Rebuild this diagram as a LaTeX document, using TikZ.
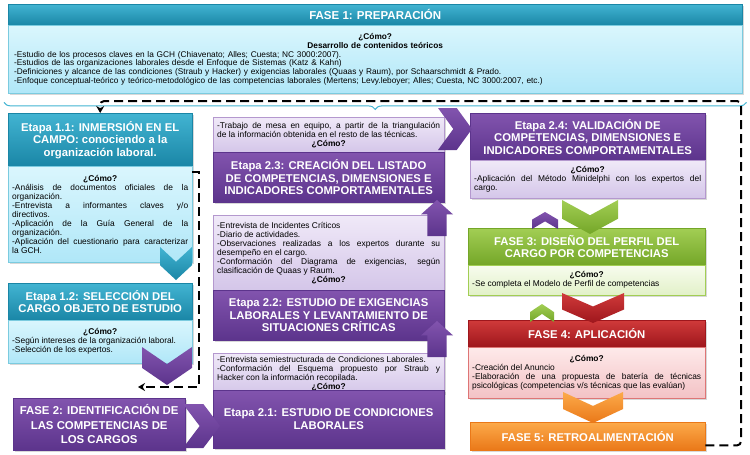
\documentclass[tikz,border=0pt]{standalone}
\usepackage{fontspec}
\setmainfont{Liberation Sans}
\usepackage{tikz}
\usetikzlibrary{arrows.meta, calc, decorations.pathreplacing, shadows}
\definecolor{tealtop}{RGB}{66,180,210}
\definecolor{tealbot}{RGB}{26,134,166}
\definecolor{teallight}{RGB}{218,246,253}
\definecolor{teallow}{RGB}{176,231,248}
\definecolor{purptop}{RGB}{130,84,174}
\definecolor{purpbot}{RGB}{92,52,140}
\definecolor{purplight}{RGB}{240,233,248}
\definecolor{purplow}{RGB}{212,198,233}
\definecolor{greentop}{RGB}{162,206,84}
\definecolor{greenbot}{RGB}{116,166,40}
\definecolor{greenlight}{RGB}{247,252,238}
\definecolor{greenlow}{RGB}{226,241,200}
\definecolor{redtop}{RGB}{208,58,58}
\definecolor{redbot}{RGB}{158,22,28}
\definecolor{redlight}{RGB}{254,234,234}
\definecolor{redlow}{RGB}{243,194,197}
\definecolor{orangetop}{RGB}{252,170,74}
\definecolor{orangebot}{RGB}{234,120,24}

\newcommand{\headtxt}{\fontsize{11.3}{12.5}\selectfont\bfseries}
\newcommand{\howtxt}{\fontsize{8.4}{9}\selectfont\parindent=0pt\hyphenpenalty=10000\tolerance=9999}
\newcommand{\comoline}{{\centering\bfseries ¿Cómo?\par}}
% chevrons: centre (or left) x, top/bottom/centre y, width, height, style
\newcommand{\chevdown}[5]{\path[#5] (#1-#3/2,#2) -- (#1,#2+0.45*#4) -- (#1+#3/2,#2) -- (#1+#3/2,#2+0.55*#4) -- (#1,#2+#4) -- (#1-#3/2,#2+0.55*#4) -- cycle;}
\newcommand{\chevup}[5]{\path[#5] (#1-#3/2,#2) -- (#1,#2-0.45*#4) -- (#1+#3/2,#2) -- (#1+#3/2,#2-0.55*#4) -- (#1,#2-#4) -- (#1-#3/2,#2-0.55*#4) -- cycle;}
\newcommand{\chevright}[5]{\path[#5] (#1,#2-#4/2) -- (#1+0.55*#3,#2-#4/2) -- (#1+#3,#2) -- (#1+0.55*#3,#2+#4/2) -- (#1,#2+#4/2) -- (#1+0.45*#3,#2) -- cycle;}
\newcommand{\blockup}[5]{\path[#5] (#1-0.3*#3,#2) -- (#1-0.3*#3,#2-0.6*#4) -- (#1-#3/2,#2-0.6*#4) -- (#1,#2-#4) -- (#1+#3/2,#2-0.6*#4) -- (#1+0.3*#3,#2-0.6*#4) -- (#1+0.3*#3,#2) -- cycle;}

\begin{document}
\begin{tikzpicture}[
    x=1pt, y=-1pt,
    box/.style={anchor=north west, inner sep=2pt, drop shadow={opacity=0.3, shadow xshift=1.5pt, shadow yshift=-1.5pt}},
    head/.style={box, align=center, text=white, font=\headtxt},
    how/.style={box, inner xsep=4pt, inner ysep=3pt, align=justify, font=\howtxt},
    tealhead/.style={head, top color=tealtop, bottom color=tealbot, draw=tealbot},
    tealhow/.style={how, top color=teallight, bottom color=teallow, draw=tealtop!70},
    purphead/.style={head, top color=purptop, bottom color=purpbot, draw=purpbot},
    purphow/.style={how, top color=purplight, bottom color=purplow, draw=purptop!60},
    greenhead/.style={head, top color=greentop, bottom color=greenbot, draw=greenbot},
    greenhow/.style={how, top color=greenlight, bottom color=greenlow, draw=greentop},
    redhead/.style={head, top color=redtop, bottom color=redbot, draw=redbot},
    redhow/.style={how, top color=redlight, bottom color=redlow, draw=redtop!70},
    orangehead/.style={head, top color=orangetop, bottom color=orangebot, draw=orangebot},
    chevteal/.style={top color=tealtop, bottom color=tealbot},
    chevpurp/.style={top color=purptop, bottom color=purpbot},
    chevgreen/.style={top color=greentop, bottom color=greenbot},
    chevred/.style={top color=redtop, bottom color=redbot},
    chevorange/.style={top color=orangetop, bottom color=orangebot},
    backline/.style={draw, line width=2pt, dash pattern=on 9pt off 5pt, -{Stealth[length=7pt, width=8pt]}}
]
    \fill[white] (0,0) rectangle (750,455);
    \useasboundingbox (0,0) rectangle (750,455);

    % FASE 1
    \node[tealhead, minimum width=734pt, minimum height=21pt, font=\fontsize{11.5}{13}\selectfont\bfseries] (f1h) at (8,4) {FASE 1: PREPARACIÓN};
    \node[tealhow, text width=722pt, minimum height=68pt, inner xsep=6pt, align=left, font=\fontsize{8.3}{8.7}\selectfont] (f1b) at (8,25) {{\centering\bfseries ¿Cómo?\par Desarrollo de contenidos teóricos\par}
        -Estudio de los procesos claves en la GCH (Chiavenato; Alles; Cuesta; NC 3000:2007).\par
        -Estudios de las organizaciones laborales desde el Enfoque de Sistemas (Katz \& Kahn)\par
        -Definiciones y alcance de las condiciones (Straub y Hacker) y exigencias laborales (Quaas y Raum), por Schaarschmidt \& Prado.\par
        -Enfoque conceptual-teórico y teórico-metodológico de las competencias laborales (Mertens; Levy.leboyer; Alles; Cuesta, NC 3000:2007, etc.)\par\vspace{5pt}};
    \draw[tealtop, line width=1pt, decorate, decoration={brace, mirror, amplitude=7pt}] ([xshift=-4pt, yshift=-9pt]f1b.south west) -- ([xshift=4pt, yshift=-9pt]f1b.south east);

    % Etapas 1.1 and 1.2
    \node[tealhead, minimum width=184pt, minimum height=53pt] (e11h) at (8,113) {Etapa 1.1: INMERSIÓN EN EL\\CAMPO: conociendo a la\\organización laboral.};
    \node[tealhow, text width=176pt, minimum height=96pt] (e11b) at (8,166) {\comoline
        -Análisis de documentos oficiales de la\linebreak organización.\par
        -Entrevista a informantes claves y/o\linebreak directivos.\par
        -Aplicación de la Guía General de la\linebreak organización.\par
        -Aplicación del cuestionario para caracterizar\linebreak la GCH.};
    \node[tealhead, minimum width=184pt, minimum height=37pt] (e12h) at (8,283) {Etapa 1.2: SELECCIÓN DEL\\CARGO OBJETO DE ESTUDIO};
    \node[tealhow, text width=176pt, minimum height=43pt] (e12b) at (8,320) {\comoline
        -Según intereses de la organización laboral.\par
        -Selección de los expertos.};

    % FASE 2
    \node[purphead, minimum width=172pt, minimum height=52pt, font=\fontsize{11.4}{14.5}\selectfont\bfseries] (f2) at (13,398) {FASE 2: IDENTIFICACIÓN DE\\LAS COMPETENCIAS DE\\LOS CARGOS};

    % Etapas 2.3, 2.2, 2.1
    \node[purphow, text width=223pt, minimum height=35pt] (e23b) at (213,117) {-Trabajo de mesa en equipo, a partir de la triangulación\linebreak de la información obtenida en el resto de las técnicas.\par
        \comoline};
    \node[purphead, minimum width=231pt, minimum height=50pt] (e23h) at (213,152) {Etapa 2.3: CREACIÓN DEL LISTADO\\DE COMPETENCIAS, DIMENSIONES E\\INDICADORES COMPORTAMENTALES};
    \node[purphow, text width=223pt, minimum height=75pt] (e22b) at (213,215) {-Entrevista de Incidentes Críticos\par
        -Diario de actividades.\par
        -Observaciones realizadas a los expertos durante su\linebreak desempeño en el cargo.\par
        -Conformación del Diagrama de exigencias, según\linebreak clasificación de Quaas y Raum.\par
        \comoline};
    \node[purphead, minimum width=231pt, minimum height=50pt] (e22h) at (213,290) {Etapa 2.2: ESTUDIO DE EXIGENCIAS\\LABORALES Y LEVANTAMIENTO DE\\SITUACIONES CRÍTICAS};
    \node[purphow, text width=223pt, minimum height=37pt] (e21b) at (213,353) {-Entrevista semiestructurada de Condiciones Laborales.\par
        -Conformación del Esquema propuesto por Straub y\linebreak Hacker con la información recopilada.\par
        \comoline};
    \node[purphead, minimum width=231pt, minimum height=58pt] (e21h) at (213,390) {Etapa 2.1: ESTUDIO DE CONDICIONES\\LABORALES};

    % Etapa 2.4 and FASES 3 to 5
    \node[purphead, minimum width=235pt, minimum height=47pt] (e24h) at (470,113) {Etapa 2.4: VALIDACIÓN DE\\COMPETENCIAS, DIMENSIONES E\\INDICADORES COMPORTAMENTALES};
    \node[purphow, text width=227pt, minimum height=38pt] (e24b) at (470,160) {\comoline
        -Aplicación del Método Minidelphi con los expertos del\linebreak cargo.};
    \node[greenhead, minimum width=237pt, minimum height=37pt] (f3h) at (468,228) {FASE 3: DISEÑO DEL PERFIL DEL\\CARGO POR COMPETENCIAS};
    \node[greenhow, text width=229pt, minimum height=30pt] (f3b) at (468,265) {\comoline
        -Se completa el Modelo de Perfil de competencias};
    \node[redhead, minimum width=237pt, minimum height=27pt] (f4h) at (468,320) {FASE 4: APLICACIÓN};
    \node[redhow, text width=229pt, minimum height=51pt] (f4b) at (468,347) {\comoline
        -Creación del Anuncio\par
        -Elaboración de una propuesta de batería de técnicas\linebreak psicológicas (competencias v/s técnicas que las evalúan)};
    \node[orangehead, minimum width=235pt, minimum height=28pt] (f5) at (470,422) {FASE 5: RETROALIMENTACIÓN};

    % Chevrons between stages
    \chevdown{176}{247}{32}{33}{chevteal}
    \chevdown{167}{347}{50}{38}{chevpurp}
    \chevright{183}{426}{37}{44}{chevpurp}
    \blockup{437}{236}{32}{36}{chevpurp}
    \blockup{437}{357}{32}{36}{chevpurp}
    \chevright{438}{129}{34}{42}{chevpurp}
    \chevdown{590}{200}{56}{34}{chevgreen}
    \chevup{545}{229}{26}{17}{chevpurp}
    \chevdown{593}{293}{62}{30}{chevred}
    \chevup{542}{322}{24}{18}{chevgreen}
    \chevdown{593}{392}{60}{31}{chevorange}

    % Dashed feedback lines
    \coordinate (backR) at (741,101);
    \coordinate (sideB) at (199,387);
    \coordinate (sideEnd) at (138,387);
    \draw[backline, rounded corners=4pt] ([yshift=5pt]f5.south east) -| (backR) -| (e11h.north);
    \draw[backline] ([yshift=-6pt]e11b.north east) -| (sideB) -- (sideEnd);
\end{tikzpicture}
\end{document}
